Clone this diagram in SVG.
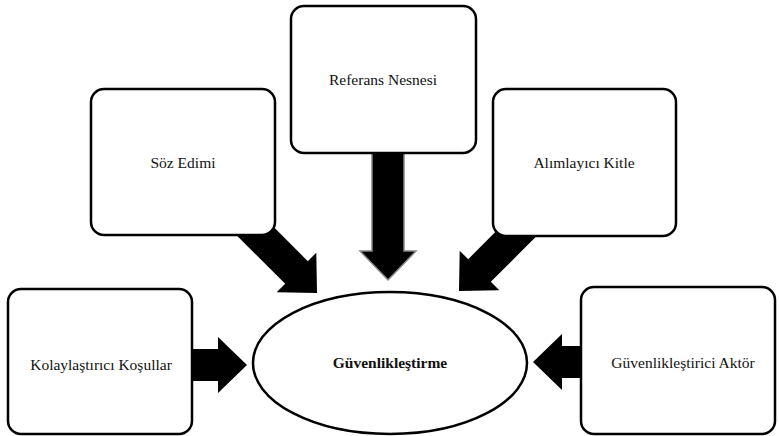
<svg xmlns="http://www.w3.org/2000/svg" width="779" height="436" viewBox="0 0 779 436">
<style>
.box{fill:#fff;stroke:#000;stroke-width:2.5}
.arr{fill:#000}
</style>
<defs>
<polygon id="arr" points="0,0 -29,-28 -29,-16 -130,-16 -130,16 -29,16 -29,28"/>
</defs>
<rect width="779" height="436" fill="#fff"/>
<g id="connectors">
<use href="#arr" class="arr" transform="translate(317,293) rotate(45)"/>
<use href="#arr" class="arr" transform="translate(459,291) rotate(135)"/>
<use href="#arr" class="arr" stroke="#888" stroke-width="1.5" transform="translate(388,280) rotate(90)"/>
<use href="#arr" class="arr" transform="translate(247,365)"/>
<use href="#arr" class="arr" transform="translate(533,362) rotate(180)"/>
</g>
<g font-family="Times New Roman, Liberation Serif, serif" font-size="15.5" fill="#111" text-anchor="middle">
<g id="referans">
<rect class="box" x="291" y="6" width="185" height="147" rx="13"/>
<text x="383" y="85">Referans Nesnesi</text>
</g>
<g id="soz">
<rect class="box" x="91" y="89" width="184" height="146" rx="13"/>
<text x="183" y="168">Söz Edimi</text>
</g>
<g id="alimlayici">
<rect class="box" x="493" y="89" width="183" height="147" rx="13"/>
<text x="584" y="168">Alımlayıcı Kitle</text>
</g>
<g id="kolaylastirici">
<rect class="box" x="8" y="289" width="184" height="145" rx="13"/>
<text x="101" y="370">Kolaylaştırıcı Koşullar</text>
</g>
<g id="aktor">
<rect class="box" x="581" y="287" width="194" height="147" rx="13"/>
<text x="683" y="368">Güvenlikleştirici Aktör</text>
</g>
<g id="guvenliklestirme">
<ellipse class="box" cx="390" cy="363" rx="137" ry="71" stroke-width="2"/>
<text x="390" y="368" font-weight="bold">Güvenlikleştirme</text>
</g>
</g>
</svg>
